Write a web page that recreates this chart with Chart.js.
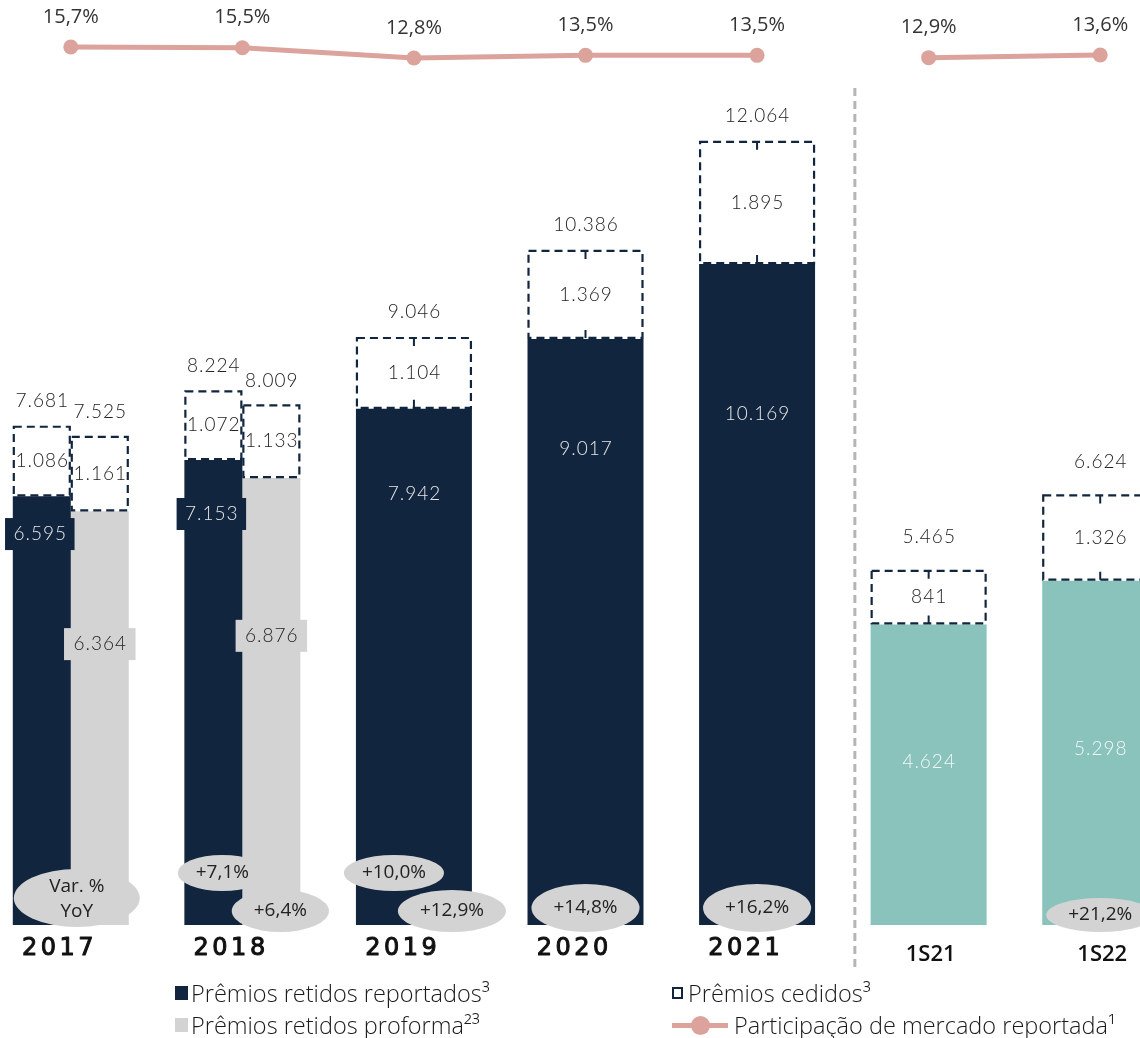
<!DOCTYPE html>
<html>
<head>
<meta charset="utf-8">
<script src="https://cdn.jsdelivr.net/npm/chart.js@4.4.1/dist/chart.umd.min.js"></script>
<style>
html,body{margin:0;padding:0;background:#fff;overflow:hidden;width:1140px;height:1038px;}
#wrap{position:absolute;left:-15px;top:0;width:1201px;height:1038px;}
.lg{position:absolute;height:28px;line-height:28px;font-family:'Open Sans',sans-serif;font-weight:300;font-size:23.5px;color:#1a1a1a;white-space:nowrap;display:flex;align-items:center;}
.sq{display:inline-block;width:13px;height:14px;margin-right:3px;}
.dash{display:inline-block;width:7px;height:8px;border:2px dashed #12253F;margin-right:5px;}
.ln{position:relative;display:inline-block;width:56px;height:5px;background:#DBA39C;margin-right:6px;}
.ln::after{content:'';position:absolute;left:19px;top:-7px;width:19px;height:19px;border-radius:50%;background:#DBA39C;}
</style>
</head>
<body>
<div id="wrap"><canvas id="c" width="1201" height="1038"></canvas></div>
<div class="lg" style="left:175px;top:979px"><span class="sq" style="background:#12253F"></span>Prêmios retidos reportados³</div>
<div class="lg" style="left:175px;top:1011px"><span class="sq" style="background:#D3D3D3"></span>Prêmios retidos proforma²³</div>
<div class="lg" style="left:672px;top:979px"><span class="dash"></span>Prêmios cedidos³</div>
<div class="lg" style="left:672px;top:1011px"><span class="ln"></span>Participação de mercado reportada¹</div>
<script>
// ---- data ----
const categories = ['2017', '2018', '2019', '2020', '2021', '1S21', '1S22'];
const retidosReportados = [6595, 7153, 7942, 9017, 10169, 4624, 5298];
const retidosProforma = [6364, 6876, null, null, null, null, null];
const cedidosReportados = [1086, 1072, 1104, 1369, 1895, 841, 1326];
const cedidosProforma = [1161, 1133, null, null, null, null, null];
const totalReportados = [7681, 8224, 9046, 10386, 12064, 5465, 6624];
const totalProforma = [7525, 8009, null, null, null, null, null];
const participacaoMercado = [15.7, 15.5, 12.8, 13.5, 13.5, 12.9, 13.6];
const varYoYReportado = [null, 7.1, 10.0, 14.8, 16.2, null, 21.2];
const varYoYProforma = [null, 6.4, 12.9, null, null, null, null];

// ---- styling ----
const NAVY = '#12253F', GRAY = '#D3D3D3', TEAL = '#89C3BC', PINK = '#DBA39C', ELL = '#D3D3D3';
const insideLabelFrac = [0.912, 0.884, 0.835, 0.812, 0.773, 0.542, 0.511];
const proformaLabelFrac = [0.679, 0.647];

const isPair = i => retidosProforma[i] != null;
const isHalf = i => categories[i].startsWith('1S');
const fmtN = v => v.toLocaleString('pt-BR');
const fmtP = v => v.toFixed(1).replace('.', ',') + '%';

function findEl(chart, role, i) {
  const ds = chart.data.datasets;
  for (let d = 0; d < ds.length; d++) {
    if (ds[d].role === role && ds[d].data[i] != null) {
      return chart.getDatasetMeta(d).data[i].getProps(['x', 'y', 'base', 'width'], true);
    }
  }
  return null;
}

function txt(ctx, s, x, y, font, color, spacing, stroke) {
  ctx.save();
  ctx.font = font;
  ctx.fillStyle = color;
  ctx.textAlign = 'center';
  ctx.textBaseline = 'middle';
  try { ctx.letterSpacing = (spacing || 0) + 'px'; } catch (e) {}
  ctx.fillText(s, x + (spacing || 0) / 2, y);
  if (stroke) {
    ctx.strokeStyle = color; ctx.lineWidth = stroke; ctx.lineJoin = 'round';
    ctx.strokeText(s, x + (spacing || 0) / 2, y);
  }
  ctx.restore();
}
function measure(ctx, s, font, spacing) {
  ctx.save(); ctx.font = font;
  try { ctx.letterSpacing = (spacing || 0) + 'px'; } catch (e) {}
  const w = ctx.measureText(s).width; ctx.restore(); return w;
}
function ellipse(ctx, x, y, rx, ry) {
  ctx.save(); ctx.fillStyle = ELL; ctx.beginPath();
  ctx.ellipse(x, y, rx, ry, 0, 0, Math.PI * 2); ctx.fill(); ctx.restore();
}

const NUMFONT = '300 19px Lato';
const overlay = {
  id: 'overlay',
  afterDatasetsDraw(chart) {
    const ctx = chart.ctx;
    const xs = chart.scales.x;
    // dashed boxes (cedidos)
    chart.data.datasets.forEach((d, di) => {
      if (d.role !== 'repCed' && d.role !== 'proCed') return;
      const meta = chart.getDatasetMeta(di);
      meta.data.forEach((el, i) => {
        if (d.data[i] == null) return;
        const p = el.getProps(['x', 'y', 'base', 'width'], true);
        const l = p.x - p.width / 2 + 1, r = p.x + p.width / 2 - 1, t = p.y + 1, b = p.base - 1;
        ctx.save();
        ctx.strokeStyle = NAVY; ctx.lineWidth = 2.2; ctx.setLineDash([8, 5]);
        ctx.strokeRect(l, t, r - l, b - t);
        if (!isPair(i)) {
          ctx.setLineDash([]); ctx.lineWidth = 2;
          ctx.beginPath();
          ctx.moveTo(p.x, t); ctx.lineTo(p.x, t + 8);
          ctx.moveTo(p.x, b); ctx.lineTo(p.x, b - 8);
          ctx.stroke();
        }
        ctx.restore();
      });
    });
    // separator between years and semesters
    const sepX = xs.getPixelForValue(4.57);
    ctx.save(); ctx.strokeStyle = '#B5B5B5'; ctx.lineWidth = 3; ctx.setLineDash([8, 5]);
    ctx.beginPath(); ctx.moveTo(sepX, 88); ctx.lineTo(sepX, 968); ctx.stroke(); ctx.restore();

    // ellipses with YoY
    const EF = '19px "Open Sans"';
    categories.forEach((c, i) => {
      const cx = xs.getPixelForValue(i);
      if (i === 0) {
        ellipse(ctx, cx + 6, 898, 63, 29);
        txt(ctx, 'Var. %', cx + 6, 887, EF, '#222');
        txt(ctx, 'YoY', cx + 6, 912, EF, '#222');
        return;
      }
      const r = varYoYReportado[i], p = varYoYProforma[i];
      if (r != null && p != null) {
        const s1 = '+' + fmtP(r), s2 = '+' + fmtP(p);
        const w1 = measure(ctx, s1, EF), w2 = measure(ctx, s2, EF);
        ellipse(ctx, cx - 20, 873, w1 / 2 + 18, 18);
        txt(ctx, s1, cx - 20, 873, EF, '#222');
        ellipse(ctx, cx + 38, 911, w2 / 2 + 22, 21);
        txt(ctx, s2, cx + 38, 911, EF, '#222');
      } else if (r != null) {
        const s1 = '+' + fmtP(r);
        const w1 = measure(ctx, s1, EF);
        const y = isHalf(i) ? 915 : 908, ry = isHalf(i) ? 17 : 24;
        ellipse(ctx, cx, y, w1 / 2 + 22, ry);
        txt(ctx, s1, cx, y, EF, '#222');
      }
    });

    // value labels
    const ys = chart.scales.y;
    categories.forEach((c, i) => {
      const rep = findEl(chart, 'rep', i);
      const repC = findEl(chart, 'repCed', i);
      if (rep) {
        const s = fmtN(retidosReportados[i]);
        const y = ys.getPixelForValue(retidosReportados[i] * insideLabelFrac[i]);
        if (isPair(i)) {
          const w = measure(ctx, s, NUMFONT, 1);
          ctx.save(); ctx.fillStyle = NAVY; ctx.fillRect(rep.x - 2 - w / 2 - 8, y - 16, w + 16, 32); ctx.restore();
          txt(ctx, s, rep.x - 2, y, NUMFONT, '#E6E6E6', 1);
        } else {
          txt(ctx, s, rep.x, y, NUMFONT, isHalf(i) ? '#F4F8F8' : '#E6E6E6', 1);
        }
      }
      if (repC) {
        txt(ctx, fmtN(cedidosReportados[i]), repC.x, (repC.y + repC.base) / 2, NUMFONT, '#222', 1);
        txt(ctx, fmtN(totalReportados[i]), repC.x, repC.y - (isHalf(i) ? 33 : 25), NUMFONT, '#222', 1);
      }
      const pro = findEl(chart, 'pro', i);
      const proC = findEl(chart, 'proCed', i);
      if (pro) {
        const s = fmtN(retidosProforma[i]);
        const y = ys.getPixelForValue(retidosProforma[i] * proformaLabelFrac[i]);
        const w = measure(ctx, s, NUMFONT, 1);
        ctx.save(); ctx.fillStyle = GRAY; ctx.fillRect(pro.x - w / 2 - 9, y - 16, w + 18, 32); ctx.restore();
        txt(ctx, s, pro.x, y, NUMFONT, '#222', 1);
      }
      if (proC) {
        txt(ctx, fmtN(cedidosProforma[i]), proC.x, (proC.y + proC.base) / 2, NUMFONT, '#222', 1);
        txt(ctx, fmtN(totalProforma[i]), proC.x, proC.y - 24, NUMFONT, '#222', 1);
      }
      // category labels
      if (isHalf(i)) {
        txt(ctx, c, xs.getPixelForValue(i) + 2, 955, '600 22px "Open Sans"', '#111');
      } else {
        txt(ctx, c, xs.getPixelForValue(i) - 13, 949, '24px "DejaVu Sans"', '#111', 3.5, 1);
      }
    });

    // market share labels
    const lineIdx = chart.data.datasets.findIndex(d => d.role === 'share');
    chart.getDatasetMeta(lineIdx).data.forEach((pt, i) => {
      txt(ctx, fmtP(participacaoMercado[i]), pt.x, pt.y - 30, '20px "Open Sans"', '#333');
    });
  }
};

const breakSeg = c => (isHalf(c.p1DataIndex) && !isHalf(c.p0DataIndex)) ? 'transparent' : PINK;

new Chart(document.getElementById('c'), {
  type: 'bar',
  data: {
    labels: categories,
    datasets: [
      { type: 'line', role: 'share', label: 'Participação de mercado reportada¹', data: participacaoMercado,
        yAxisID: 'yLine', borderColor: PINK, backgroundColor: PINK, borderWidth: 5,
        pointRadius: 7.5, pointHoverRadius: 7.5, pointBorderWidth: 0, pointBackgroundColor: PINK,
        segment: { borderColor: breakSeg } },
      { role: 'rep', label: 'Prêmios retidos reportados³', data: retidosReportados,
        yAxisID: 'y', stack: 'rep', backgroundColor: c => (isHalf(c.dataIndex) ? TEAL : NAVY) },
      { role: 'repCed', label: 'Prêmios cedidos³', data: cedidosReportados,
        yAxisID: 'y', stack: 'rep', backgroundColor: 'rgba(255,255,255,0)' },
      { role: 'pro', label: 'Prêmios retidos proforma²³', data: retidosProforma,
        yAxisID: 'y', stack: 'pro', backgroundColor: GRAY },
      { role: 'proCed', label: 'Prêmios cedidos proforma', data: cedidosProforma,
        yAxisID: 'y', stack: 'pro', backgroundColor: 'rgba(255,255,255,0)' }
    ]
  },
  options: {
    responsive: false,
    animation: false,
    devicePixelRatio: 1,
    layout: { autoPadding: false, padding: { top: 0, bottom: 113, left: 0, right: 0 } },
    datasets: { bar: { categoryPercentage: 0.676, barPercentage: 1, borderWidth: 0, skipNull: true } },
    plugins: { legend: { display: false }, tooltip: { enabled: false } },
    events: [],
    scales: {
      x: { type: 'category', display: false, offset: true, stacked: true },
      y: { type: 'linear', display: false, stacked: true, min: 0, max: 14231 },
      yLine: { type: 'linear', display: false, min: -215.35, max: 28.07 }
    }
  },
  plugins: [overlay]
});
</script>
</body>
</html>
